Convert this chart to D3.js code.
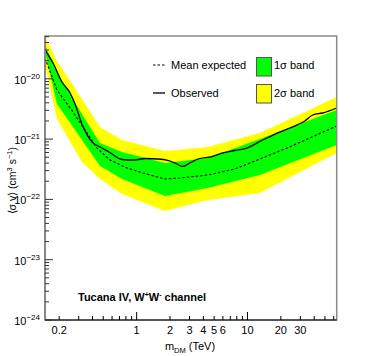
<!DOCTYPE html>
<html><head><meta charset="utf-8">
<script src="https://cdn.jsdelivr.net/npm/d3@7"></script>
<style>body{margin:0;background:#fff}svg{display:block}text{font-family:"Liberation Sans",Arial,sans-serif}</style>
</head><body><svg id="c" width="374" height="356"></svg>
<script>
// Band mass points (TeV)
const bandMass = [0.149, 0.191, 0.321, 0.467, 0.738, 1.80, 4.39, 12.9, 63.8];
const yellowUpper = [5.13e-20, 1.97e-20, 4.62e-21, 1.59e-21, 9.66e-22, 6.35e-22, 7.40e-22, 1.26e-21, 4.99e-21];
const yellowLower = [1.69e-20, 2.15e-21, 4.17e-22, 2.18e-22, 1.23e-22, 6.43e-23, 9.77e-23, 1.28e-22, 5.87e-22];
const greenUpper  = [3.64e-20, 1.30e-20, 2.61e-21, 8.61e-22, 6.11e-22, 4.02e-22, 4.86e-22, 1.00e-21, 3.04e-21];
const greenLower  = [2.78e-20, 3.82e-21, 9.66e-22, 3.58e-22, 2.18e-22, 1.14e-22, 1.55e-22, 2.54e-22, 7.98e-22];
// Mean expected
const expMass = [0.149, 0.191, 0.267, 0.328, 0.439, 0.575, 0.818, 1.14, 1.80, 2.46, 4.39, 7.69, 24.0, 63.8];
const expVal  = [2.21e-20, 6.52e-21, 2.81e-21, 1.59e-21, 7.11e-22, 4.50e-22, 3.32e-22, 2.74e-22, 2.18e-22, 2.26e-22, 2.54e-22, 3.19e-22, 7.40e-22, 1.65e-21];
// Observed
const obsMass = [0.149, 0.176, 0.212, 0.251, 0.278, 0.321, 0.396, 0.467, 0.563, 0.738, 0.965, 1.19, 1.56, 1.91, 2.21, 2.61, 3.02, 3.57, 4.77, 5.87, 7.69, 9.86, 13.7, 19.5, 27.8, 32.9, 38.8, 47.7, 63.8];
const obsVal  = [3.01e-20, 1.83e-20, 8.85e-21, 5.82e-21, 3.82e-21, 1.78e-21, 8.95e-22, 7.40e-22, 6.11e-22, 4.59e-22, 4.50e-22, 4.77e-22, 4.68e-22, 4.42e-22, 4.02e-22, 3.52e-22, 4.02e-22, 4.68e-22, 5.14e-22, 5.87e-22, 6.47e-22, 7.11e-22, 9.66e-22, 1.31e-21, 1.71e-21, 2.00e-21, 2.51e-21, 2.71e-21, 3.28e-21];
// Ticks
const xLabelTicks = [0.2, 1, 2, 3, 4, 5, 6, 10, 20, 30];
const xMajorTicks = [1, 10];
const yMajorTicks = [1e-24, 1e-23, 1e-22, 1e-21, 1e-20];
const yExponents = ["−24", "−23", "−22", "−21", "−20"];

const svg = d3.select("#c");
const L = 45, R = 336.7, T = 36, B = 320;
const x = d3.scaleLog().domain([0.149, 63.8]).range([L, R]);
const y = d3.scaleLog().domain([1e-24, Math.pow(10, -19.29)]).range([B, T]);

svg.append("clipPath").attr("id", "clip").append("rect")
  .attr("x", L).attr("y", T).attr("width", R - L).attr("height", B - T);
const g = svg.append("g").attr("clip-path", "url(#clip)");

const bandIdx = d3.range(bandMass.length);
const area = (lo, hi) => d3.area().x(i => x(bandMass[i])).y0(i => y(lo[i])).y1(i => y(hi[i]));
g.append("path").attr("d", area(yellowLower, yellowUpper)(bandIdx)).attr("fill", "#ffff00");
g.append("path").attr("d", area(greenLower, greenUpper)(bandIdx)).attr("fill", "#00ff00");

const expLine = d3.line().x(i => x(expMass[i])).y(i => y(expVal[i]));
g.append("path").attr("d", expLine(d3.range(expMass.length))).attr("fill", "none")
  .attr("stroke", "#000").attr("stroke-width", 1.1).attr("stroke-dasharray", "2.5,2");
const obsLine = d3.line().curve(d3.curveMonotoneX).x(i => x(obsMass[i])).y(i => y(obsVal[i]));
g.append("path").attr("d", obsLine(d3.range(obsMass.length))).attr("fill", "none")
  .attr("stroke", "#000").attr("stroke-width", 1.3);

// Frame
svg.append("rect").attr("x", L).attr("y", T).attr("width", R - L).attr("height", B - T)
  .attr("fill", "none").attr("stroke", "#8a8a8a").attr("stroke-width", 1.5);
svg.append("line").attr("x1", L).attr("x2", L).attr("y1", T).attr("y2", B).attr("stroke", "#888").attr("stroke-width", 2);
svg.append("line").attr("x1", L).attr("x2", R).attr("y1", B).attr("y2", B).attr("stroke", "#000").attr("stroke-width", 1);

// X ticks
const xMinor = [];
[0.1, 1, 10].forEach(d => { for (let k = 1; k <= 9; k++) { const v = d * k; if (v >= 0.149 && v <= 63.8) xMinor.push(v); } });
svg.append("g").selectAll("line").data(xMinor).join("line")
  .attr("x1", d => x(d)).attr("x2", d => x(d)).attr("y1", B)
  .attr("y2", d => xMajorTicks.includes(d) ? B - 8 : B - 4)
  .attr("stroke", "#000").attr("stroke-width", 1);
svg.append("g").selectAll("text").data(xLabelTicks).join("text")
  .attr("x", d => x(d)).attr("y", 334).attr("text-anchor", "middle")
  .attr("font-size", 11).attr("fill", "#000").text(d => d);

// Y ticks
const yMinor = [];
yMajorTicks.forEach(d => { for (let k = 1; k <= 9; k++) { const v = d * k; if (v <= Math.pow(10, -19.29)) yMinor.push({v, major: k === 1}); } });
svg.append("g").selectAll("line").data(yMinor).join("line")
  .attr("x1", L).attr("x2", d => d.major ? L + 8 : L + 4)
  .attr("y1", d => y(d.v)).attr("y2", d => y(d.v))
  .attr("stroke", "#333").attr("stroke-width", 1);
const yl = svg.append("g").selectAll("text").data(yMajorTicks).join("text")
  .attr("x", 40).attr("y", d => y(d) + 5).attr("text-anchor", "end")
  .attr("font-size", 11).attr("fill", "#000");
yl.append("tspan").text("10");
yl.append("tspan").attr("dy", -5).attr("font-size", 8).text((d, i) => yExponents[i]);

// Axis titles
const xt = svg.append("text").attr("x", 190).attr("y", 350).attr("text-anchor", "middle").attr("font-size", 11);
xt.append("tspan").text("m");
xt.append("tspan").attr("dy", 3).attr("font-size", 7.5).text("DM");
xt.append("tspan").attr("dy", -3).text(" (TeV)");

const yt = svg.append("text").attr("transform", "translate(16,147) rotate(-90)")
  .attr("text-anchor", "end").attr("font-size", 10.5);
yt.append("tspan").text("⟨σ v⟩ (cm");
yt.append("tspan").attr("dy", -4).attr("font-size", 7.5).text("3");
yt.append("tspan").attr("dy", 4).text(" s");
yt.append("tspan").attr("dy", -4).attr("font-size", 7.5).text("−1");
yt.append("tspan").attr("dy", 4).text(")");

// Legend
svg.append("line").attr("x1", 153).attr("x2", 165).attr("y1", 65).attr("y2", 65)
  .attr("stroke", "#000").attr("stroke-width", 1.1).attr("stroke-dasharray", "2.5,2");
svg.append("line").attr("x1", 153).attr("x2", 165).attr("y1", 93).attr("y2", 93)
  .attr("stroke", "#000").attr("stroke-width", 1.3);
svg.append("text").attr("x", 171).attr("y", 69).attr("font-size", 11).text("Mean expected");
svg.append("text").attr("x", 171).attr("y", 97).attr("font-size", 11).text("Observed");
svg.append("rect").attr("x", 256.5).attr("y", 57.5).attr("width", 15).attr("height", 18.5)
  .attr("fill", "#00ff00").attr("stroke", "#555").attr("stroke-width", 1);
svg.append("rect").attr("x", 256.5).attr("y", 84.5).attr("width", 15).attr("height", 18.5)
  .attr("fill", "#ffff00").attr("stroke", "#555").attr("stroke-width", 1);
svg.append("text").attr("x", 274).attr("y", 69).attr("font-size", 11).text("1σ band");
svg.append("text").attr("x", 274).attr("y", 97).attr("font-size", 11).text("2σ band");

// Annotation
const an = svg.append("text").attr("x", 78).attr("y", 301).attr("font-size", 11).attr("font-weight", "bold");
an.append("tspan").text("Tucana IV, W");
an.append("tspan").attr("dy", -4).attr("font-size", 7).text("+");
an.append("tspan").attr("dy", 4).text("W");
an.append("tspan").attr("dy", -4).attr("font-size", 7).text("-");
an.append("tspan").attr("dy", 4).text(" channel");
</script></body></html>
